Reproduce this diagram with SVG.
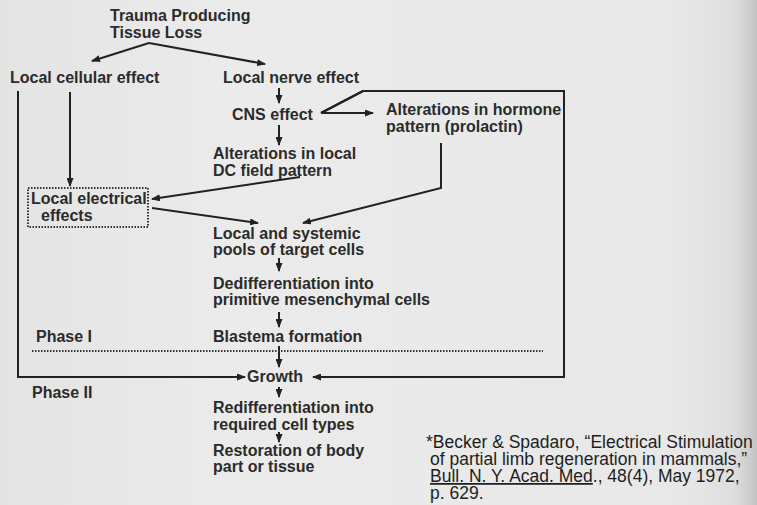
<svg xmlns="http://www.w3.org/2000/svg" width="757" height="505" viewBox="0 0 757 505">
<defs>
<linearGradient id="bg" x1="0" y1="0" x2="1" y2="0">
<stop offset="0" stop-color="#e4e4e4"/>
<stop offset="0.3" stop-color="#ebebeb"/>
<stop offset="0.9" stop-color="#e8e8e8"/>
<stop offset="0.97" stop-color="#dedede"/>
<stop offset="1" stop-color="#c4c4c4"/>
</linearGradient>
<marker id="ah" markerUnits="userSpaceOnUse" markerWidth="9" markerHeight="7" refX="8" refY="3.5" orient="auto">
<path d="M0,0 L9,3.5 L0,7 z" fill="#222"/>
</marker>
</defs>
<style>
.t{font-family:"Liberation Sans",Arial,sans-serif;font-weight:bold;font-size:16px;fill:#2b2b2b}
.c{font-family:"Liberation Sans",Arial,sans-serif;font-size:17.5px;fill:#1e1e1e}
.ln{stroke:#222;stroke-width:2;fill:none}
.ar{stroke:#222;stroke-width:2;fill:none;marker-end:url(#ah)}
.dot{stroke:#333;stroke-width:2;fill:none;stroke-dasharray:1.5 1.5}
</style>
<rect x="0" y="0" width="757" height="505" fill="url(#bg)"/>

<g id="connectors">
<path class="ar" d="M149,43 L92,61"/>
<path class="ar" d="M149,43 L265,64"/>
<path class="ar" d="M279,88 L279,103"/>
<path class="ar" d="M279,125 L279,145"/>
<path class="ln" d="M363,91 L321,113"/>
<path class="ar" d="M321,113 L373,113"/>
<path class="ln" d="M321,113 L363,91 L564,91 L564,377 L320,377"/>
<path class="ar" d="M400,377 L313,377"/>
<path class="ar" d="M70,92 L70,186"/>
<path class="ar" d="M300,177 L152,199"/>
<path class="ar" d="M152,208 L258,223"/>
<path class="ar" d="M441,143 L441,188 L303,223"/>
<path class="ar" d="M279,258 L279,271"/>
<path class="ar" d="M279,312 L279,327"/>
<path class="ar" d="M279,346 L279,367"/>
<path class="ln" d="M18,91 L18,377 L200,377"/>
<path class="ar" d="M150,377 L245,377"/>
<path class="ar" d="M279,387 L279,397"/>
<path class="ar" d="M279,432 L279,442"/>
<path class="dot" d="M32,351 L543,351"/>
</g>

<g id="trauma"><text class="t" x="110" y="21">Trauma Producing</text><text class="t" x="110" y="38">Tissue Loss</text></g>
<g id="local-cellular"><text class="t" x="10" y="83">Local cellular effect</text></g>
<g id="local-nerve"><text class="t" x="223" y="83">Local nerve effect</text></g>
<g id="cns"><text class="t" x="232" y="120">CNS effect</text></g>
<g id="hormone"><text class="t" x="386" y="115">Alterations in hormone</text><text class="t" x="386" y="132">pattern (prolactin)</text></g>
<g id="dc-field"><text class="t" x="213" y="159">Alterations in local</text><text class="t" x="213" y="176">DC field pattern</text></g>
<g id="local-electrical"><rect class="dot" x="28" y="188" width="120" height="39"/><text class="t" x="31" y="204">Local electrical</text><text class="t" x="41" y="221">effects</text></g>
<g id="pools"><text class="t" x="213" y="239">Local and systemic</text><text class="t" x="213" y="255">pools of target cells</text></g>
<g id="dediff"><text class="t" x="213" y="289">Dedifferentiation into</text><text class="t" x="213" y="305">primitive mesenchymal cells</text></g>
<g id="blastema"><text class="t" x="213" y="342">Blastema formation</text></g>
<g id="phase1"><text class="t" x="36" y="342">Phase I</text></g>
<g id="growth"><text class="t" x="247" y="382">Growth</text></g>
<g id="phase2"><text class="t" x="32" y="398">Phase II</text></g>
<g id="rediff"><text class="t" x="213" y="413">Redifferentiation into</text><text class="t" x="213" y="430">required cell types</text></g>
<g id="restoration"><text class="t" x="213" y="456">Restoration of body</text><text class="t" x="213" y="472">part or tissue</text></g>

<g id="citation">
<text class="c" x="426" y="448">*Becker &amp; Spadaro, “Electrical Stimulation</text>
<text class="c" x="430" y="465">of partial limb regeneration in mammals,”</text>
<text class="c" x="430" y="482"><tspan text-decoration="underline">Bull. N. Y. Acad. Med</tspan>., 48(4), May 1972,</text>
<text class="c" x="430" y="499">p. 629.</text>
</g>
</svg>
